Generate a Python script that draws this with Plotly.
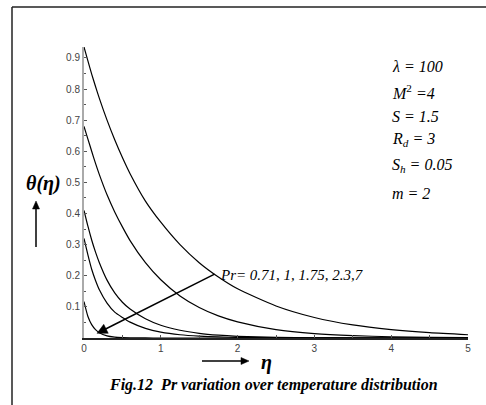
import math
import plotly.graph_objects as go

# ---- data ----
eta = [0, 0.05, 0.1, 0.15, 0.2, 0.3, 0.4, 0.5, 0.6, 0.8, 1.0, 1.25, 1.5, 1.75, 2.0, 2.5, 3.0, 3.5, 4.0, 4.5, 5.0]
theta_pr071 = [0.935, 0.891, 0.848, 0.808, 0.770, 0.700, 0.637, 0.580, 0.528, 0.440, 0.372, 0.300, 0.242, 0.196, 0.158, 0.103, 0.066, 0.042, 0.027, 0.017, 0.0105]
theta_pr1 = [0.680, 0.640, 0.600, 0.561, 0.525, 0.460, 0.405, 0.357, 0.313, 0.242, 0.187, 0.135, 0.098, 0.071, 0.052, 0.027, 0.014, 0.0075, 0.004, 0.002, 0.001]
theta_pr175 = [0.410, 0.360, 0.315, 0.276, 0.242, 0.186, 0.145, 0.115, 0.093, 0.062, 0.041, 0.025, 0.015, 0.009, 0.0055, 0.002, 0.0008, 0.0003, 0.0001, 0.0, 0.0]
theta_pr23 = [0.320, 0.268, 0.221, 0.185, 0.155, 0.112, 0.083, 0.066, 0.051, 0.031, 0.019, 0.0105, 0.006, 0.0033, 0.0018, 0.0006, 0.0002, 0.0, 0.0, 0.0, 0.0]
theta_pr7 = [0.117, 0.070, 0.043, 0.027, 0.017, 0.007, 0.003, 0.0013, 0.0006, 0.0001, 0.0, 0.0, 0.0, 0.0, 0.0, 0.0, 0.0, 0.0, 0.0, 0.0, 0.0]
series = [theta_pr071, theta_pr1, theta_pr175, theta_pr23, theta_pr7]

x_ticks = [0, 1, 2, 3, 4, 5]
y_ticks = [0.1, 0.2, 0.3, 0.4, 0.5, 0.6, 0.7, 0.8, 0.9]

params = ["<i>λ = 100</i>", "<i>M</i><sup>2</sup><i> =4</i>", "<i>S = 1.5</i>",
          "<i>R<sub>d</sub> = 3</i>", "<i>S<sub>h</sub> = 0.05</i>", "<i>m = 2</i>"]
pr_label = "<i>Pr= 0.71, 1, 1.75, 2.3,7</i>"
caption = "<b><i>Fig.12  Pr variation over temperature distribution</i></b>"

# Pr arrow end points in data units (tail on the Pr=0.71 curve, head near the origin)
pr_arrow_tail = (1.70, 0.205)
pr_arrow_head = (0.17, 0.015)

# ---- layout helpers ----
W, H = 486, 405
L, R, T, B = 84, 18, 47, 67
PW, PH = W - L - R, H - T - B
XR = (0, 5)
YR = (0, 0.935)

def px(x):
    return (x - L) / PW

def py(y):
    return (H - B - y) / PH

def dx2pix(x):
    return L + (x - XR[0]) / (XR[1] - XR[0]) * PW

def dy2pix(y):
    return H - B - (y - YR[0]) / (YR[1] - YR[0]) * PH

def arrow_shapes(x0, y0, x1, y1, head_len=9, head_half=4, width=1.5):
    """pixel coords, tail (x0,y0) -> head (x1,y1)"""
    dx, dy = x1 - x0, y1 - y0
    n = math.hypot(dx, dy)
    ux, uy = dx / n, dy / n
    bx, by = x1 - head_len * ux, y1 - head_len * uy
    pxv, pyv = -uy * head_half, ux * head_half
    line = dict(type="line", xref="paper", yref="paper",
                x0=px(x0), y0=py(y0), x1=px(bx + ux), y1=py(by + uy),
                line=dict(color="black", width=width))
    tri = dict(type="path", xref="paper", yref="paper",
               path=f"M {px(x1)} {py(y1)} L {px(bx + pxv)} {py(by + pyv)} L {px(bx - pxv)} {py(by - pyv)} Z",
               fillcolor="black", line=dict(color="black", width=0.5))
    return [line, tri]

fig = go.Figure()
for s in series:
    fig.add_trace(go.Scatter(x=eta, y=s, mode="lines",
                             line=dict(color="black", width=1.2, shape="spline", smoothing=0.6),
                             showlegend=False, hoverinfo="skip"))

fig.update_layout(
    width=W, height=H,
    margin=dict(l=L, r=R, t=T, b=B),
    paper_bgcolor="white", plot_bgcolor="white",
    xaxis=dict(range=list(XR), tickvals=x_ticks, showgrid=False, zeroline=False,
               showline=True, linecolor="#222", linewidth=2,
               ticks="inside", ticklen=3, tickcolor="#555", tickwidth=1,
               minor=dict(ticks="inside", dtick=0.5, tick0=0, ticklen=3, tickcolor="#555"),
               tickfont=dict(family="Liberation Sans", size=10, color="#444")),
    yaxis=dict(range=list(YR), tickvals=y_ticks, showgrid=False, zeroline=False,
               showline=True, linecolor="#aaa", linewidth=2,
               ticks="inside", ticklen=3, tickcolor="#555", tickwidth=1,
               minor=dict(ticks="inside", dtick=0.05, tick0=0, ticklen=2, tickcolor="#555"),
               tickfont=dict(family="Liberation Sans", size=10, color="#444")),
)

ann = []
serif = "Liberation Serif"
ys = [66, 92, 116, 139, 165, 193]
for t, y in zip(params, ys):
    ann.append(dict(x=px(390), y=py(y), xref="paper", yref="paper", text=t, showarrow=False,
                    xanchor="left", yanchor="middle", font=dict(family=serif, size=16, color="black")))

ann.append(dict(x=px(218), y=py(275), xref="paper", yref="paper", text=pr_label, showarrow=False,
                xanchor="left", yanchor="middle", font=dict(family=serif, size=15, color="black")))
ann.append(dict(x=px(273), y=py(385), xref="paper", yref="paper", text=caption, showarrow=False,
                xanchor="center", yanchor="middle", font=dict(family=serif, size=16, color="black")))
ann.append(dict(x=px(43), y=py(183), xref="paper", yref="paper", text="<b><i>θ(η)</i></b>", showarrow=False,
                xanchor="center", yanchor="middle", font=dict(family=serif, size=20, color="black")))
ann.append(dict(x=px(266), y=py(362), xref="paper", yref="paper", text="<b><i>η</i></b>", showarrow=False,
                xanchor="center", yanchor="middle", font=dict(family=serif, size=20, color="black")))
fig.update_layout(annotations=ann)

shapes = []
# vertical arrow next to theta label, horizontal arrow next to eta label
shapes += arrow_shapes(36, 247, 36, 201, head_len=8, head_half=3.5)
shapes += arrow_shapes(202, 361, 249, 361, head_len=8, head_half=3.5)
# Pr arrow (data-based ends)
shapes += arrow_shapes(dx2pix(pr_arrow_tail[0]), dy2pix(pr_arrow_tail[1]),
                       dx2pix(pr_arrow_head[0]), dy2pix(pr_arrow_head[1]), head_len=10, head_half=5)
# frame lines (top and left)
shapes.append(dict(type="line", xref="paper", yref="paper", x0=px(12), y0=py(7), x1=px(486), y1=py(7),
                   line=dict(color="#222", width=1.5)))
shapes.append(dict(type="line", xref="paper", yref="paper", x0=px(12), y0=py(7), x1=px(12), y1=py(405),
                   line=dict(color="#222", width=1.5)))
fig.update_layout(shapes=shapes)

fig.write_html("out.html")
